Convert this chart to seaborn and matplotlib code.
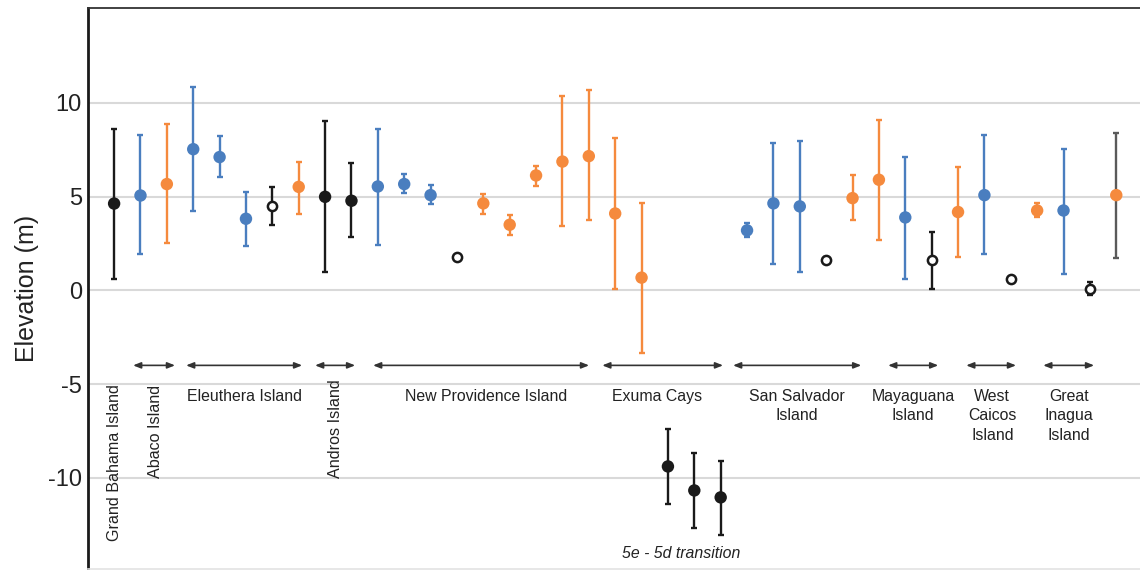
import numpy as np
import pandas as pd
import matplotlib
matplotlib.use("Agg")
import matplotlib.pyplot as plt
import seaborn as sns

# ---------------- data ----------------
positions = list(range(39))
values = [4.63, 5.06, 5.67, 7.53, 7.11, 3.82, 4.48, 5.52, 4.99, 4.78,
          5.54, 5.67, 5.08, 1.80, 4.64, 3.50, 6.13, 6.87, 7.16, 4.10,
          0.68, -9.39, -10.67, -11.04, 3.20, 4.64, 4.48, 1.64, 4.92, 5.90,
          3.89, 1.64, 4.18, 5.08, 0.61, 4.26, 4.26, 0.07, 5.08]
lows = [0.61, 1.94, 2.54, 4.25, 6.06, 2.38, 3.50, 4.10, 0.98, 2.84,
        2.40, 5.22, 4.62, 1.80, 4.09, 2.98, 5.59, 3.45, 3.75, 0.07,
        -3.36, -11.40, -12.68, -13.05, 2.84, 1.42, 0.98, 1.50, 3.73, 2.68,
        0.59, 0.07, 1.80, 1.96, 0.50, 3.89, 0.89, -0.23, 1.73]
highs = [8.61, 8.30, 8.90, 10.84, 8.23, 5.24, 5.52, 6.87, 9.02, 6.79,
         8.60, 6.22, 5.62, 1.80, 5.15, 4.03, 6.66, 10.39, 10.68, 8.14,
         4.64, -7.38, -8.66, -9.11, 3.59, 7.87, 7.99, 1.78, 6.13, 9.11,
         7.11, 3.13, 6.57, 8.30, 0.72, 4.64, 7.55, 0.46, 8.38]
marker_kind = ["black", "blue", "orange", "blue", "blue", "blue", "open", "orange", "black", "black",
               "blue", "blue", "blue", "open", "orange", "orange", "orange", "orange", "orange", "orange",
               "orange", "black", "black", "black", "blue", "blue", "blue", "open", "orange", "orange",
               "blue", "open", "orange", "blue", "open", "orange", "blue", "open", "orange"]
bar_kind = ["black", "blue", "orange", "blue", "blue", "blue", "black", "orange", "black", "black",
            "blue", "blue", "blue", "black", "orange", "orange", "orange", "orange", "orange", "orange",
            "orange", "black", "black", "black", "blue", "blue", "blue", "black", "orange", "orange",
            "blue", "black", "orange", "blue", "black", "orange", "blue", "black", "gray"]

# island groups: (label, arrow start, arrow end, label x)
group_labels = ["Eleuthera Island", "New Providence Island", "Exuma Cays", "San Salvador\nIsland",
                "Mayaguana\nIsland", "West\nCaicos\nIsland", "Great\nInagua\nIsland"]
group_start = [2.73, 9.82, 18.51, 23.47, 29.35, 32.31, 35.23]
group_end = [7.13, 18.01, 23.09, 28.33, 31.25, 34.20, 37.16]
group_label_x = [4.93, 14.1, 20.6, 25.9, 30.3, 33.3, 36.2]

# short arrows with rotated labels
small_arrow_start = [0.72, 7.62]
small_arrow_end = [2.31, 9.14]
rot_labels = ["Grand Bahama Island", "Abaco Island", "Andros Island"]
rot_label_x = [0.0, 1.56, 8.38]
rot_label_y = [-5.0, -5.05, -4.75]

yticks = [-10, -5, 0, 5, 10]

# ---------------- style ----------------
sns.set_style("white")
plt.rcParams["font.family"] = ["Liberation Sans", "DejaVu Sans"]

BLUE = "#4A7EBF"
ORANGE = "#F58A3D"
BLACK = "#1a1a1a"
GRAY = "#5a5a5a"
colors = {"blue": BLUE, "orange": ORANGE, "black": BLACK, "gray": GRAY}

df = pd.DataFrame({"pos": positions, "value": values, "low": lows, "high": highs,
                   "marker": marker_kind, "bar": bar_kind})

fig = plt.figure(figsize=(11.4, 5.7), dpi=100)
ax = fig.add_axes([88 / 1140, 1 / 570, 1 - 88 / 1140, 561 / 570])

# grid
for yv in yticks:
    ax.axhline(yv, color="#d9d9d9", lw=1.5, zorder=0)

# error bars
for kind, sub in df.groupby("bar"):
    ax.errorbar(sub["pos"], sub["value"],
                yerr=[sub["value"] - sub["low"], sub["high"] - sub["value"]],
                fmt="none", ecolor=colors[kind], elinewidth=1.7, capsize=2.4,
                capthick=1.7, zorder=2)

filled = df[df["marker"] != "open"]
sns.scatterplot(data=filled, x="pos", y="value", hue="marker",
                palette={k: colors[k] for k in ["blue", "orange", "black"]},
                s=80, edgecolor="none", legend=False, zorder=3, ax=ax)
opens = df[df["marker"] == "open"]
sns.scatterplot(data=opens, x="pos", y="value", color="white", edgecolor=BLACK,
                linewidth=1.8, s=44, legend=False, zorder=4, ax=ax)

# arrows and labels
arrow_y = -4.0
arrow_props = dict(arrowstyle="<|-|>,head_length=0.45,head_width=0.18",
                   color="#333333", lw=1.2, shrinkA=0, shrinkB=0)
for x0, x1 in zip(group_start + small_arrow_start, group_end + small_arrow_end):
    ax.annotate("", xy=(x1, arrow_y), xytext=(x0, arrow_y), arrowprops=arrow_props)
for lab, lx in zip(group_labels, group_label_x):
    ax.text(lx, -5.25, lab, ha="center", va="top", fontsize=11.4, color="#222222",
            linespacing=1.38)
for lab, lx, ly in zip(rot_labels, rot_label_x, rot_label_y):
    ax.text(lx, ly, lab, ha="center", va="top", rotation=90, fontsize=11.6,
            color="#222222")
ax.text(21.5, -14.05, "5e - 5d transition", ha="center", va="center",
        fontsize=11.4, style="italic", color="#222222")

# axes
ax.set_xlim(-0.99, 38.9)
ax.set_ylim(-14.86, 15.06)
ax.set_yticks(yticks)
ax.set_yticklabels([str(t) for t in yticks])
ax.set_xticks([])
ax.set_xlabel("")
ax.set_ylabel("Elevation (m)", fontsize=18, color="#222222", labelpad=6)
ax.tick_params(axis="y", length=0, pad=4.5, labelsize=17, labelcolor="#222222")
ax.spines["right"].set_visible(False)
ax.spines["bottom"].set_color("#e3e3e3")
ax.spines["bottom"].set_linewidth(1.2)
ax.spines["left"].set_color("#1a1a1a")
ax.spines["left"].set_linewidth(2.0)
ax.spines["top"].set_color("#333333")
ax.spines["top"].set_linewidth(1.3)

fig.savefig("out.png", dpi=100)
